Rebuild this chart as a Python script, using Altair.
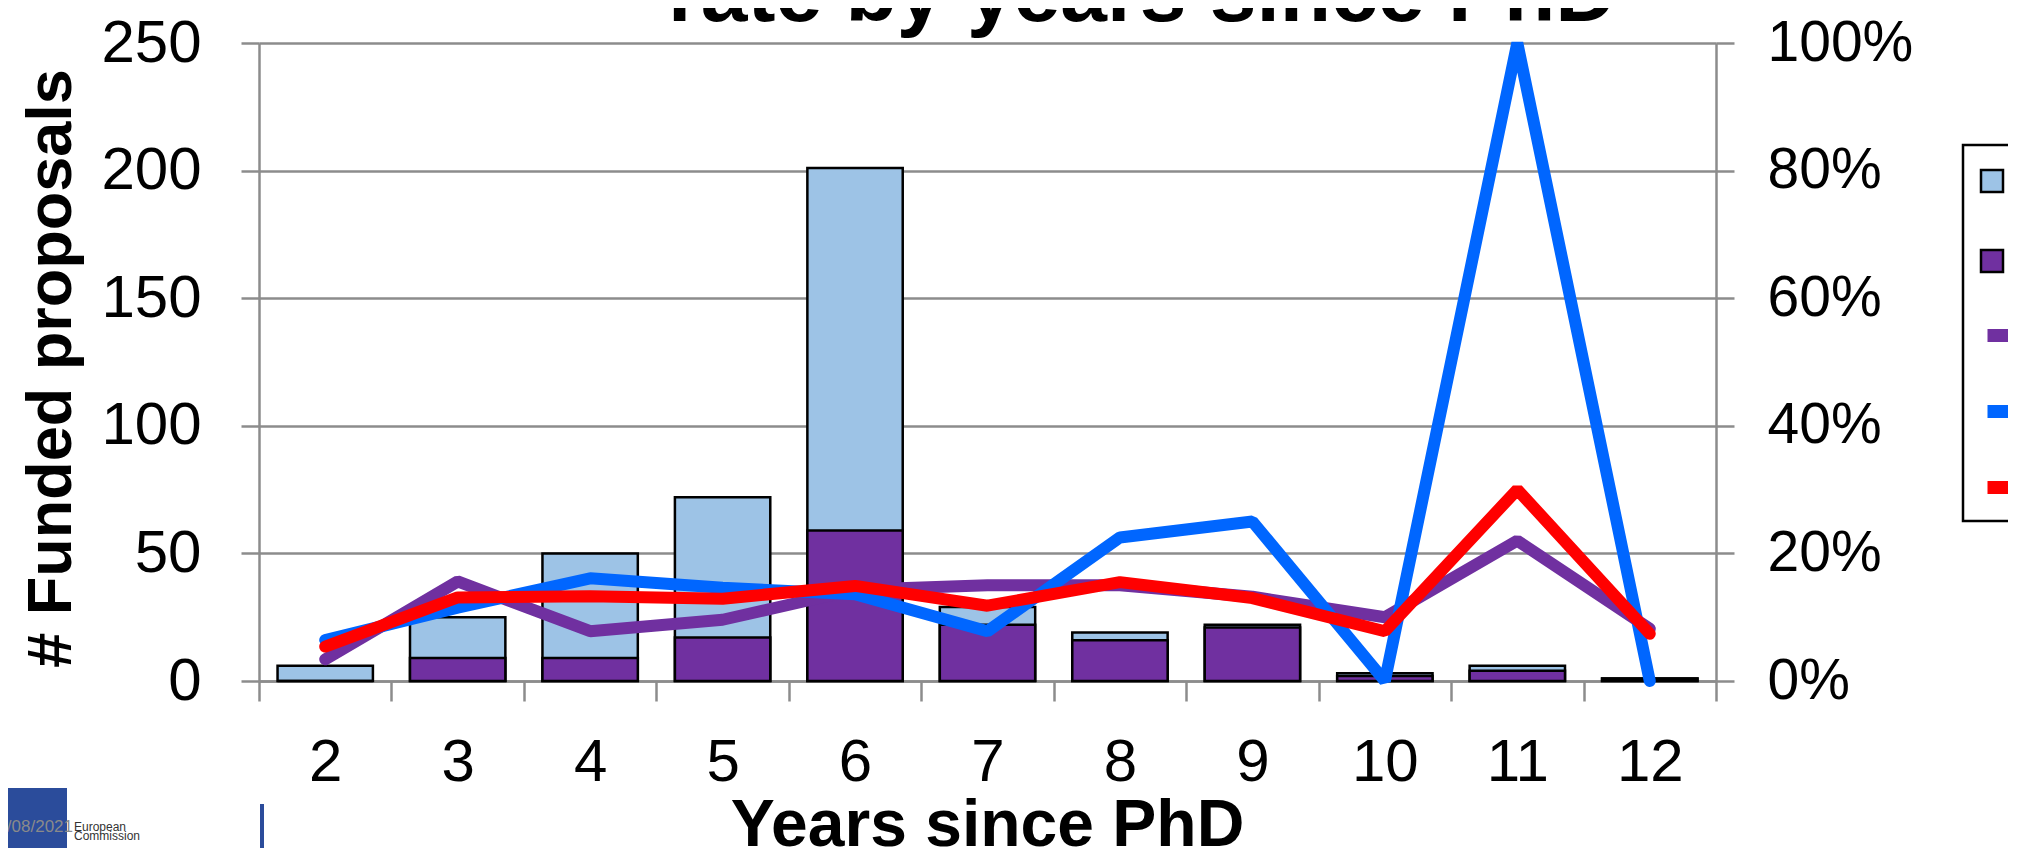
import altair as alt
import pandas as pd

# ---- data ----
years = [2, 3, 4, 5, 6, 7, 8, 9, 10, 11, 12]
evaluated = [6, 25, 50, 72, 201, 29, 19, 22, 3, 6, 1]
funded = [0, 9, 9, 17, 59, 22, 16, 21, 2, 4, 1]
rate_purple = [3.4, 15.6, 7.8, 9.6, 14.3, 15.0, 15.0, 13.2, 10.0, 22.0, 8.2]
rate_blue = [6.4, 11.5, 16.1, 14.6, 13.6, 7.8, 22.5, 25.0, 0.0, 100.0, 0.0]
rate_red = [5.4, 13.1, 13.3, 12.9, 14.9, 11.8, 15.5, 13.0, 7.8, 30.0, 7.4]

bar_series = ["Evaluated proposals", "Funded proposals"]
line_series = ["Success rate (women)", "Success rate (men)", "Overall success rate"]
left_ticks = [0, 50, 100, 150, 200, 250]
right_ticks = [0, 0.2, 0.4, 0.6, 0.8, 1.0]

LIGHTBLUE = "#9DC3E6"
PURPLE = "#7030A0"
BLUE = "#0066FF"
RED = "#FF0000"
GRAY = "#8C8C8C"
FONT = "Liberation Sans"

bar_rows = []
for s, vals in zip(bar_series, [evaluated, funded]):
    for y, v in zip(years, vals):
        bar_rows.append({"year": y, "series": s, "value": v})
bars_df = pd.DataFrame(bar_rows)

line_rows = []
for s, vals in zip(line_series, [rate_purple, rate_blue, rate_red]):
    for y, v in zip(years, vals):
        line_rows.append({"year": y, "series": s, "rate": v / 100.0})
lines_df = pd.DataFrame(line_rows)

x_enc = alt.X(
    "year:O",
    sort=years,
    scale=alt.Scale(paddingInner=0, paddingOuter=0),
    axis=alt.Axis(
        title="Years since PhD",
        labelAngle=0,
        labelFont=FONT,
        labelFontSize=60,
        labelColor="black",
        labelPadding=32,
        tickSize=20,
        tickColor=GRAY,
        tickWidth=2.5,
        tickBand="extent",
        domainColor=GRAY,
        domainWidth=2.5,
        grid=False,
        titleFont=FONT,
        titleFontSize=66,
        titleFontWeight="bold",
        titleColor="black",
        titleX=728,
        titleY=164,
        titleBaseline="alphabetic",
        titleAlign="center",
    ),
)

bars = alt.Chart(bars_df).mark_bar(
    stroke="black", strokeWidth=2.5, width=alt.RelativeBandSize(band=0.72)
).encode(
    x=x_enc,
    y=alt.Y(
        "value:Q",
        stack=None,
        scale=alt.Scale(domain=[0, 250], nice=False),
        axis=alt.Axis(
            orient="left",
            title="# Funded proposals",
            values=left_ticks,
            labelFont=FONT,
            labelFontSize=60,
            labelColor="black",
            labelPadding=40,
            tickSize=18,
            tickColor=GRAY,
            tickWidth=2.5,
            domainColor=GRAY,
            domainWidth=2.5,
            grid=True,
            gridColor=GRAY,
            gridWidth=2.5,
            titleFont=FONT,
            titleFontSize=63,
            titleFontWeight="bold",
            titleColor="black",
            titleAngle=270,
            titleX=-189,
            titleY=325,
            titleBaseline="alphabetic",
            titleAlign="center",
        ),
    ),
    color=alt.Color(
        "series:N",
        scale=alt.Scale(domain=bar_series, range=[LIGHTBLUE, PURPLE]),
        legend=alt.Legend(
            orient="none",
            legendX=1708,
            legendY=113,
            title=None,
            symbolType="square",
            symbolSize=484,
            symbolStrokeColor="black",
            symbolStrokeWidth=2.5,
            labelFont=FONT,
            labelFontSize=50,
            rowPadding=30,
            padding=0,
        ),
    ),
)

lines = alt.Chart(lines_df).mark_line(
    strokeWidth=12, strokeJoin="bevel", strokeCap="round"
).encode(
    x=x_enc,
    y=alt.Y(
        "rate:Q",
        scale=alt.Scale(domain=[0, 1], nice=False),
        axis=alt.Axis(
            orient="right",
            title="",
            values=right_ticks,
            format=".0%",
            labelFont=FONT,
            labelFontSize=57,
            labelColor="black",
            labelPadding=33,
            tickSize=18,
            tickColor=GRAY,
            tickWidth=2.5,
            domainColor=GRAY,
            domainWidth=2.5,
            grid=False,
        ),
    ),
    color=alt.Color(
        "series:N",
        scale=alt.Scale(domain=line_series, range=[PURPLE, BLUE, RED]),
        legend=alt.Legend(
            orient="none",
            legendX=1722,
            legendY=256,
            title=None,
            symbolType="stroke",
            symbolSize=3600,
            symbolStrokeWidth=13,
            labelFont=FONT,
            labelFontSize=50,
            rowPadding=13,
            padding=0,
        ),
    ),
    order=alt.Order("series_order:Q"),
).transform_calculate(
    series_order="indexof(" + str(line_series) + ", datum.series)"
)

one = pd.DataFrame({"k": [0]})

legend_box = alt.Chart(one).mark_rect(fill="white", stroke="black", strokeWidth=2.5).encode(
    x=alt.value(1704), x2=alt.value(1900), y=alt.value(102), y2=alt.value(478)
)

title_txt = alt.Chart(pd.DataFrame({"t": ["rate by years since PhD"]})).mark_text(
    font=FONT, fontSize=84, fontWeight="bold", align="center", baseline="alphabetic", color="black"
).encode(x=alt.value(883), y=alt.value(-22), text="t:N")

flag = alt.Chart(one).mark_rect(color="#2B4C9B").encode(
    x=alt.value(-251), x2=alt.value(-192), y=alt.value(745), y2=alt.value(805)
)

date_txt = alt.Chart(pd.DataFrame({"t": ["15/08/2021"]})).mark_text(
    font=FONT, fontSize=17, align="right", baseline="alphabetic", color="#8A8A8A"
).encode(x=alt.value(-186), y=alt.value(789), text="t:N")

ec_txt = alt.Chart(pd.DataFrame({"t": ["European", "Commission"], "dy": [0, 1]})).mark_text(
    font=FONT, fontSize=12, align="left", baseline="alphabetic", color="#333333"
).encode(x=alt.value(-185), y=alt.Y("dy:O", axis=None, scale=alt.Scale(range=[783, 801])), text="t:N")

vbar = alt.Chart(one).mark_rule(color="#2B4C9B", strokeWidth=4).encode(
    x=alt.value(3), y=alt.value(761), y2=alt.value(805)
)

chart = (
    alt.layer(legend_box, bars, lines, title_txt, flag, date_txt, ec_txt, vbar)
    .resolve_scale(y="independent", color="independent")
    .properties(
        width=1457,
        height=638,
        autosize=alt.AutoSizeParams(type="none"),
        padding={"left": 251, "top": 35, "right": 292, "bottom": 167},
        background="white",
    )
    .configure_view(strokeWidth=0)
    .configure(font=FONT)
)

chart.save("out.html", embed_options={"renderer": "svg", "actions": False})
